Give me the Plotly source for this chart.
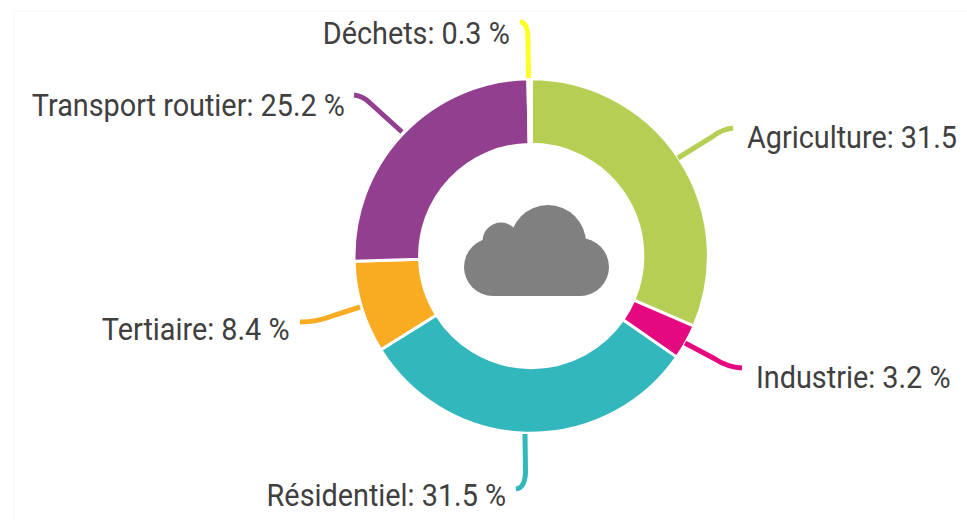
import plotly.graph_objects as go

categories = ["Agriculture", "Industrie", "Résidentiel", "Tertiaire", "Transport routier", "Déchets"]
values = [31.5, 3.2, 31.5, 8.4, 25.2, 0.3]
colors = ["#B5CF55", "#E5097F", "#31B7BC", "#F9AB22", "#923F8F", "#FFFF26"]
label_units = ["", " %", " %", " %", " %", " %"]

W, H = 967, 520
CX, CY, R = 531.2, 256, 177.2
FONT = "Roboto, sans-serif"
TEXT = "#404040"


def px(x):
    return x / W


def py(y):
    return 1 - y / H


def path(*pts):
    (x0, y0), (x1, y1), (qx, qy), (x2, y2) = pts
    return (f"M {px(x0)} {py(y0)} L {px(x1)} {py(y1)} "
            f"Q {px(qx)} {py(qy)} {px(x2)} {py(y2)}")


connectors = [
    ((678, 158), (712, 137), (722, 129), (733, 128)),
    ((685, 343), (715, 359), (727, 367), (742, 368)),
    ((525, 434), (525.5, 472), (525, 488), (516, 489)),
    ((360, 307), (335, 315), (318, 322), (300, 322)),
    ((402, 132), (370, 103), (363, 96), (354, 95)),
    ((528.5, 78), (528, 40), (528, 22), (520, 22)),
]
label_pos = [
    (745, 137, "left"),
    (754, 377, "left"),
    (508, 495, "right"),
    (292, 329, "right"),
    (347, 105, "right"),
    (512, 33, "right"),
]

fig = go.Figure(go.Pie(
    labels=categories,
    values=values,
    sort=False,
    direction="clockwise",
    rotation=0,
    hole=0.63,
    textinfo="none",
    showlegend=False,
    marker=dict(colors=colors, line=dict(color="#ffffff", width=3)),
    domain=dict(x=[px(CX - R), px(CX + R)], y=[py(CY + R), py(CY - R)]),
))

shapes = [dict(type="rect", xref="paper", yref="paper", x0=px(14), x1=px(980),
               y0=py(530), y1=py(11), line=dict(color="#f6f6f6", width=1), layer="below")]
for c, pts in zip(colors, connectors):
    shapes.append(dict(type="path", xref="paper", yref="paper", path=path(*pts),
                       line=dict(color=c, width=5)))

CLOUD = "#808080"
for (cx, cy, r) in [(493, 267, 29), (580, 267, 29), (501, 241, 18.5), (548, 243, 38)]:
    shapes.append(dict(type="circle", xref="paper", yref="paper",
                       x0=px(cx - r), x1=px(cx + r), y0=py(cy + r), y1=py(cy - r),
                       fillcolor=CLOUD, line=dict(width=0)))
shapes.append(dict(type="rect", xref="paper", yref="paper",
                   x0=px(493), x1=px(580), y0=py(296), y1=py(245),
                   fillcolor=CLOUD, line=dict(width=0)))

annotations = []
for cat, val, unit, (x, y, anchor) in zip(categories, values, label_units, label_pos):
    annotations.append(dict(text=f"{cat}: {val}{unit}", xref="paper", yref="paper",
                            x=px(x), y=py(y), xanchor=anchor, yanchor="middle",
                            showarrow=False,
                            font=dict(family=FONT, size=32, color=TEXT)))

fig.update_layout(width=W, height=H, margin=dict(l=0, r=0, t=0, b=0),
                  paper_bgcolor="#ffffff", plot_bgcolor="#ffffff",
                  shapes=shapes, annotations=annotations)

# The reference face is a condensed Roboto, which is not installed: narrow the real text.
condense = """
document.body.style.margin='0';document.body.style.overflow='hidden';
var anchors=%s;
document.querySelectorAll('.annotation').forEach(function(g,i){
  var t=g.querySelector('text'); if(!t) return;
  t.style.transformBox='fill-box';
  t.style.transformOrigin=(anchors[i]==='left'?'left':'right')+' center';
  t.style.transform='scaleX(0.9)';
  var r=g.querySelector('rect'); if(r) r.style.display='none';
});
""" % str([p[2] for p in label_pos])

fig.write_html("out.html", config=dict(displayModeBar=False), post_script=condense)
